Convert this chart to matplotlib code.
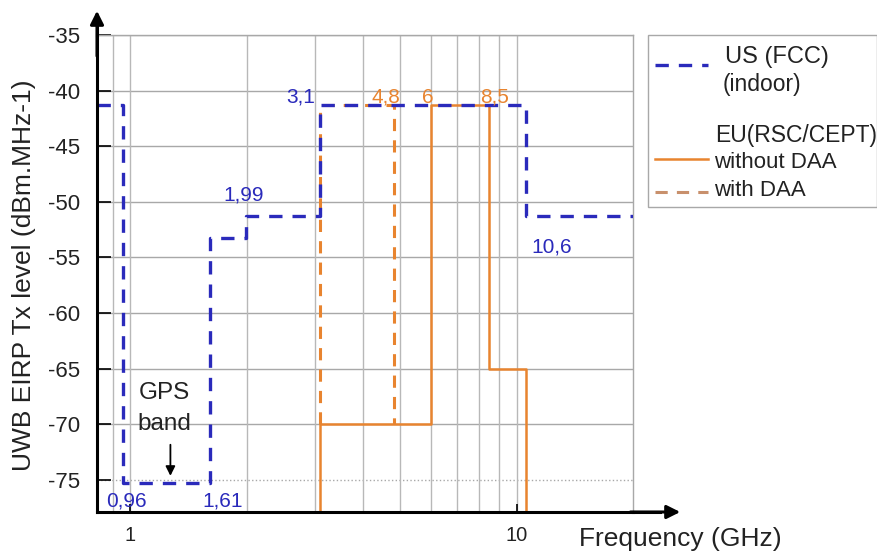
import numpy as np
import matplotlib
matplotlib.use("Agg")
from matplotlib import pyplot as plt
from matplotlib.lines import Line2D
from matplotlib.patches import Rectangle

plt.rcParams['font.family'] = ['Liberation Sans', 'DejaVu Sans']

# US (FCC) indoor mask: band edges (GHz) and level of each band (dBm/MHz)
us_edges = [0.82, 0.96, 1.61, 1.99, 3.1, 10.6, 20.0]
us_levels = [-41.3, -75.3, -53.3, -51.3, -41.3, -51.3]

# EU (RSC/CEPT) without DAA
eu_edges = [3.1, 6.0, 8.5, 10.6]
eu_levels = [-70.0, -41.3, -65.0]

# EU with DAA
daa_edges = [3.1, 4.8]
daa_levels = [-41.3]
daa_base = -70.0

y_ticks = [-35, -40, -45, -50, -55, -60, -65, -70, -75]
x_grid = [0.9, 1, 2, 3, 4, 5, 6, 7, 8, 9, 10]
x_ticks = [1, 10]
x_ticklabels = ["1", "10"]

# labels on the corners: (text, x, y, colour, alignment)
edge_labels = [
    ("3,1", 3.0, -41.1, "blue", "right"),
    ("4,8", 4.6, -41.1, "orange", "center"),
    ("6", 5.9, -41.1, "orange", "center"),
    ("8,5", 8.75, -41.1, "orange", "center"),
    ("1,99", 1.96, -49.9, "blue", "center"),
    ("10,6", 12.3, -54.6, "blue", "center"),
    ("0,96", 0.98, -77.4, "blue", "center"),
    ("1,61", 1.73, -77.4, "blue", "center"),
]

BLUE = "#2a2abb"
ORANGE = "#e8842f"
DAA_LEG = "#c8906c"
GRID = "#a8a8a8"
TXT = "#222222"

xmin, xmax = 0.82, 20.0
ymin, ymax = -77.9, -35.0
floor = -80.0


def step_vertices(edges, levels, start, end):
    xs, ys = [edges[0]], [start]
    for i, lev in enumerate(levels):
        xs += [edges[i], edges[i + 1]]
        ys += [lev, lev]
    xs.append(edges[-1])
    ys.append(end)
    return xs, ys


fig = plt.figure(figsize=(8.78, 5.55), dpi=100)
ax = fig.add_axes([97 / 878, 1 - 512 / 555, 536 / 878, 477 / 555])
ax.set_xscale("log")
ax.set_xlim(xmin, xmax)
ax.set_ylim(ymin, ymax)

# grid
for y in y_ticks:
    ax.axhline(y, color=GRID, lw=1.0, ls=":" if y == -75 else "-", zorder=1)
for x in x_grid:
    ax.axvline(x, color="#b8b8b8", lw=1.0, zorder=1)

# US mask
ux = []
uy = []
for i, lev in enumerate(us_levels):
    ux += [us_edges[i], us_edges[i + 1]]
    uy += [lev, lev]
ax.plot(ux, uy, color=BLUE, lw=2.4, dashes=(4, 3), zorder=4)

# EU without DAA
ex, ey = step_vertices(eu_edges, eu_levels, floor, floor)
ax.plot(ex, ey, color=ORANGE, lw=1.8, zorder=3)

# EU with DAA
dx, dy = step_vertices(daa_edges, daa_levels, daa_base, daa_base)
ax.plot(dx, dy, color=ORANGE, lw=2.2, dashes=(4, 3), zorder=3)

colors = {"blue": BLUE, "orange": ORANGE}
for txt, x, y, c, ha in edge_labels:
    ax.text(x, y, txt, color=colors[c], fontsize=15, ha=ha, va="baseline", zorder=5)

ax.text(1.225, -67.2, "GPS", fontsize=17.5, ha="center", va="center", color=TXT)
ax.text(1.225, -70.0, "band", fontsize=17.5, ha="center", va="center", color=TXT)
ax.annotate("", xy=(1.27, -74.9), xytext=(1.27, -71.6),
            arrowprops=dict(arrowstyle="-|>", color="black", lw=1.3, mutation_scale=14))

# axes styling
for s in ["top", "right"]:
    ax.spines[s].set_color(GRID)
    ax.spines[s].set_linewidth(1.0)
for s in ["left", "bottom"]:
    ax.spines[s].set_color("black")
    ax.spines[s].set_linewidth(2.2)
    ax.spines[s].set_zorder(6)

ax.set_yticks(y_ticks)
ax.set_yticklabels([str(v) for v in y_ticks])
ax.set_xticks(x_ticks)
ax.set_xticklabels(x_ticklabels)
ax.xaxis.set_minor_locator(matplotlib.ticker.NullLocator())
ax.tick_params(axis="y", direction="in", length=10, width=1.2, pad=12, labelsize=16,
               labelcolor=TXT)
ax.tick_params(axis="x", direction="in", length=6, width=1.2, pad=10, labelsize=14.5,
               labelcolor=TXT)

# axis arrows
ax.annotate("", xy=(0, 1 + 27 / 477), xytext=(0, 0.95), xycoords="axes fraction",
            arrowprops=dict(arrowstyle="-|>", color="black", lw=2.2, mutation_scale=20),
            annotation_clip=False)
ax.annotate("", xy=(586 / 536, 0), xytext=(0.99, 0), xycoords="axes fraction",
            arrowprops=dict(arrowstyle="-|>", color="black", lw=2.2, mutation_scale=20),
            annotation_clip=False)
ax.add_line(Line2D([0, 0], [1, 1.03], transform=ax.transAxes, color="black", lw=2.2,
                   clip_on=False))
ax.add_line(Line2D([1, 1.05], [0, 0], transform=ax.transAxes, color="black", lw=2.2,
                   clip_on=False))

fig.text(24 / 878, 1 - 275 / 555, "UWB EIRP Tx level (dBm.MHz-1)", rotation=90,
         ha="center", va="center", fontsize=19, color=TXT)
fig.text(680 / 878, 1 - 539 / 555, "Frequency (GHz)", ha="center", va="center",
         fontsize=19, color=TXT)

# legend box
W, H = 878, 555
fig.patches.append(Rectangle((648 / W, 1 - 207 / H), 229 / W, 172 / H,
                             transform=fig.transFigure, fill=False,
                             edgecolor=GRID, lw=1.0))
fig.add_artist(Line2D([655 / W, 708 / W], [1 - 65 / H] * 2, color=BLUE, lw=2.4,
                      dashes=(4, 3)))
fig.text(725 / W, 1 - 57 / H, "US (FCC)", fontsize=17, va="center", color=TXT)
fig.text(723 / W, 1 - 85 / H, "(indoor)", fontsize=16.5, va="center", color=TXT)
fig.text(715 / W, 1 - 136 / H, "EU(RSC/CEPT)", fontsize=16.5, va="center", color=TXT)
fig.add_artist(Line2D([655 / W, 708 / W], [1 - 159 / H] * 2, color=ORANGE, lw=1.8))
fig.text(714 / W, 1 - 162 / H, "without DAA", fontsize=16, va="center", color=TXT)
fig.add_artist(Line2D([655 / W, 708 / W], [1 - 192 / H] * 2, color=DAA_LEG, lw=2.2,
                      dashes=(4, 3)))
fig.text(714 / W, 1 - 190 / H, "with DAA", fontsize=16, va="center", color=TXT)

fig.savefig("out.png", dpi=100)
